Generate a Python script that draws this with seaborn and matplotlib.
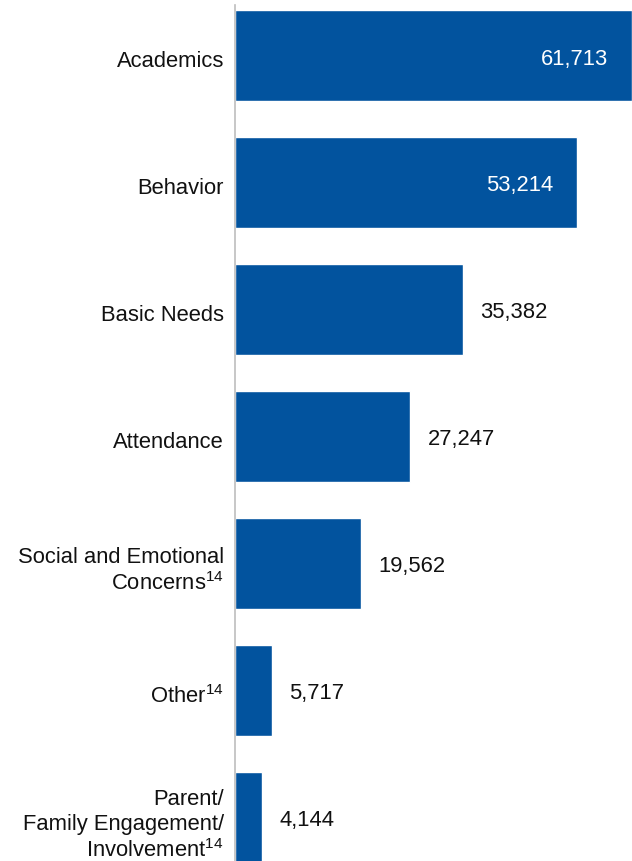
import matplotlib
matplotlib.use("Agg")
import matplotlib.pyplot as plt
import matplotlib.transforms as mtransforms
import seaborn as sns
import pandas as pd

categories = [
    "Academics",
    "Behavior",
    "Basic Needs",
    "Attendance",
    "Social and Emotional\nConcerns$^{14}$",
    "Other$^{14}$",
    "Parent/\nFamily Engagement/\nInvolvement$^{14}$",
]
counts = [61713, 53214, 35382, 27247, 19562, 5717, 4144]
inside_label = [True, True, False, False, False, False, False]

df = pd.DataFrame({"category": categories, "count": counts})

sns.set_theme(style="white")
plt.rcParams["font.family"] = ["Liberation Sans", "DejaVu Sans"]
plt.rcParams["mathtext.fontset"] = "custom"
plt.rcParams["mathtext.rm"] = "Liberation Sans"
plt.rcParams["mathtext.it"] = "Liberation Sans"
plt.rcParams["mathtext.bf"] = "Liberation Sans"

bar_color = "#02539E"
fs = 15.8

fig = plt.figure(figsize=(6.32, 8.61), dpi=100)
ax = fig.add_axes([235 / 632, 0.0, 1 - 235 / 632, 1 - 5 / 861])

sns.barplot(data=df, x="count", y="category", orient="h", color=bar_color,
            saturation=1, width=0.717, ax=ax)

ax.set_xlim(0, max(counts))
ax.set_ylim(6.343, -0.398)
ax.set_xlabel("")
ax.set_ylabel("")
ax.set_xticks([])
for side in ["top", "right", "bottom"]:
    ax.spines[side].set_visible(False)
ax.spines["left"].set_color("#bdbdbd")
ax.spines["left"].set_linewidth(1.2)
ax.tick_params(axis="y", length=0, pad=8, labelsize=fs, labelcolor="#111111")

# nudge category labels slightly downward
shift = mtransforms.ScaledTranslation(0, -2.5 / 72, fig.dpi_scale_trans)
for lbl in ax.get_yticklabels():
    lbl.set_linespacing(1.22)
    lbl.set_transform(lbl.get_transform() + shift)

for i, (v, inside) in enumerate(zip(counts, inside_label)):
    txt = f"{v:,}"
    if inside:
        ax.annotate(txt, (v, i), xytext=(-17, -2.5), textcoords="offset points",
                    ha="right", va="center", fontsize=fs, color="white")
    else:
        ax.annotate(txt, (v, i), xytext=(12.5, -2.5), textcoords="offset points",
                    ha="left", va="center", fontsize=fs, color="#111111")

fig.savefig("out.png", dpi=100)
